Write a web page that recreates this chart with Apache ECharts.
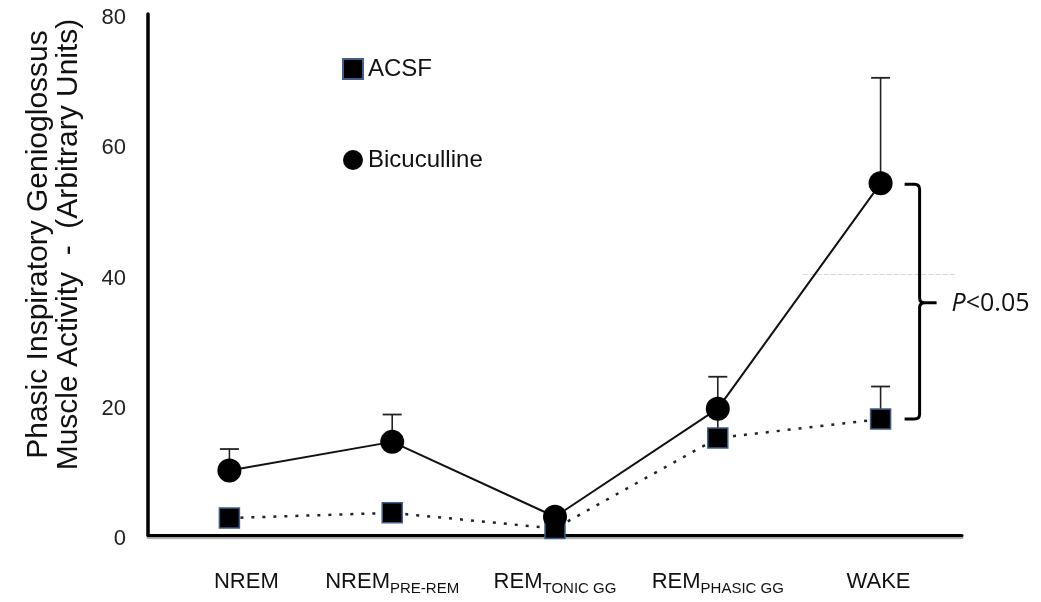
<!DOCTYPE html>
<html>
<head>
<meta charset="utf-8">
<script src="https://cdn.jsdelivr.net/npm/echarts@6/dist/echarts.min.js"></script>
<style>
html,body{margin:0;padding:0;background:#fff;}
#chart{width:1041px;height:602px;}
</style>
</head>
<body>
<div id="chart"></div>
<script>
// ---- data ----
const catMain = ['NREM', 'NREM', 'REM', 'REM', 'WAKE'];
const catSub = ['', 'PRE-REM', 'TONIC GG', 'PHASIC GG', ''];
const seriesNames = ['ACSF', 'Bicuculline'];
const acsf = [2.6, 3.4, 1.0, 14.9, 17.8];
const acsfErrTop = [null, null, null, 19.0, 22.8];
const bic = [9.9, 14.3, 2.8, 19.4, 54.0];
const bicErrTop = [13.2, 18.5, null, 24.3, 70.2];
const yMin = 0, yMax = 80, yStep = 20;
const sigLabel = ['P', '<0.05'];
const sigIndex = 4;

const FONT = '"Liberation Sans", Arial, sans-serif';

function errData(vals, tops) {
  const out = [];
  vals.forEach((v, i) => { if (tops[i] != null) out.push([i, v, tops[i]]); });
  return out;
}

function renderErr(params, api) {
  const i = api.value(0);
  const p0 = api.coord([i, api.value(1)]);
  const p1 = api.coord([i, api.value(2)]);
  const hw = 9.5;
  return {
    type: 'group',
    children: [
      { type: 'line', shape: { x1: p0[0], y1: p0[1], x2: p1[0], y2: p1[1] },
        style: { stroke: '#222', lineWidth: 1.6 } },
      { type: 'line', shape: { x1: p1[0] - hw, y1: p1[1], x2: p1[0] + hw, y2: p1[1] },
        style: { stroke: '#222', lineWidth: 1.8 } }
    ]
  };
}

function renderBracket(params, api) {
  const i = api.value(0);
  const pT = api.coord([i, api.value(1)]);
  const pB = api.coord([i, api.value(2)]);
  const pG = api.coord([i, api.value(3)]);
  const x0 = pT[0] + 24, x1 = pT[0] + 39, x2 = pT[0] + 56;
  const top = pT[1] + 1, bot = pB[1], mid = (top + bot) / 2 + 1;
  const r = 5;
  const path = 'M' + x0 + ',' + top + ' L' + (x1 - r) + ',' + top +
    ' Q' + x1 + ',' + top + ' ' + x1 + ',' + (top + r) +
    ' L' + x1 + ',' + (mid - r) +
    ' Q' + x1 + ',' + mid + ' ' + (x1 + r) + ',' + mid +
    ' L' + x2 + ',' + mid +
    ' M' + (x1 + r) + ',' + mid +
    ' Q' + x1 + ',' + mid + ' ' + x1 + ',' + (mid + r) +
    ' L' + x1 + ',' + (bot - r) +
    ' Q' + x1 + ',' + bot + ' ' + (x1 - r) + ',' + bot +
    ' L' + x0 + ',' + bot;
  return {
    type: 'group',
    children: [
      { type: 'line', z2: -10, shape: { x1: pT[0] - 78, y1: pG[1], x2: pT[0] + 74, y2: pG[1] },
        style: { stroke: '#d6d6d6', lineWidth: 1, lineDash: [5, 2] } },
      { type: 'path', shape: { pathData: path },
        style: { stroke: '#000', lineWidth: 3, fill: null } },
      { type: 'text', style: { x: x2 + 15, y: mid + 1, text: '{i|' + sigLabel[0] + '}{n|' + sigLabel[1] + '}',
        verticalAlign: 'middle', align: 'left',
        rich: {
          i: { fontStyle: 'italic', fontSize: 25, fontFamily: '"Open Sans", sans-serif', fill: '#111' },
          n: { fontSize: 25, fontFamily: '"Open Sans", sans-serif', fill: '#111' }
        } } }
    ]
  };
}

const chart = echarts.init(document.getElementById('chart'), null, { renderer: 'canvas' });
chart.setOption({
  animation: false,
  backgroundColor: '#fff',
  grid: { left: 148, top: 14, width: 814, height: 521 },
  legend: {
    data: [{ name: seriesNames[0], icon: 'rect' }, { name: seriesNames[1], icon: 'circle' }],
    orient: 'vertical',
    left: 337, top: 52,
    itemWidth: 20, itemHeight: 20, itemGap: 67,
    textStyle: { fontSize: 24, color: '#111', fontFamily: FONT, lineHeight: 20 }
  },
  xAxis: {
    type: 'category',
    data: catMain.map((m, i) => i),
    boundaryGap: true,
    axisLine: { lineStyle: { color: '#000', width: 3, shadowColor: 'rgba(0,0,0,0.35)', shadowOffsetY: 2, shadowBlur: 1 } },
    axisTick: { show: false },
    axisLabel: {
      interval: 0,
      margin: 32,
      formatter: (v, i) => '{' + (i === 0 ? 'm0' : 'm') + '|' + catMain[i] + '}{s|' + (catSub[i] || ' ') + '}',
      rich: {
        m: { fontSize: 22, color: '#111', fontFamily: FONT },
        m0: { fontSize: 22, color: '#111', fontFamily: FONT, padding: [0, 0, 0, 38] },
        s: { fontSize: 15, color: '#111', fontFamily: FONT, padding: [14, 0, 0, 0] }
      }
    },
    splitLine: { show: false }
  },
  yAxis: {
    type: 'value',
    min: yMin, max: yMax, interval: yStep,
    axisLine: { show: true, lineStyle: { color: '#000', width: 3.5 } },
    axisTick: { show: false },
    splitLine: { show: false },
    axisLabel: {
      margin: 22,
      formatter: '{v|{value}}',
      rich: { v: { fontSize: 22, color: '#222', fontFamily: FONT, padding: [8, 0, 0, 0] } }
    },
    name: 'Phasic Inspiratory Genioglossus\nMuscle Activity  -  (Arbitrary Units)',
    nameLocation: 'middle',
    nameRotate: 90,
    nameGap: 64,
    nameTextStyle: { fontSize: 30, lineHeight: 30, color: '#111', fontFamily: FONT, padding: [0, 0, 0, 60] }
  },
  series: [
    {
      type: 'custom', name: 'errA', z: 1, silent: true,
      data: errData(acsf, acsfErrTop), encode: { x: 0, y: [1, 2] },
      renderItem: renderErr
    },
    {
      type: 'custom', name: 'errB', z: 1, silent: true,
      data: errData(bic, bicErrTop), encode: { x: 0, y: [1, 2] },
      renderItem: renderErr
    },
    {
      type: 'custom', name: 'sig', z: 1, silent: true,
      data: [[sigIndex, bic[sigIndex], acsf[sigIndex], 40]], encode: { x: 0, y: [1, 2] },
      renderItem: renderBracket
    },
    {
      name: 'ACSF', type: 'line', z: 3,
      data: acsf,
      symbol: 'rect', symbolSize: 20,
      itemStyle: { color: '#000', borderColor: '#3d5f8a', borderWidth: 1.5 },
      lineStyle: { color: '#222', width: 2.5, type: [3, 8] }
    },
    {
      name: 'Bicuculline', type: 'line', z: 4,
      data: bic,
      symbol: 'circle', symbolSize: 24,
      itemStyle: { color: '#000', borderWidth: 0 },
      lineStyle: { color: '#111', width: 2 }
    }
  ]
});
</script>
</body>
</html>
